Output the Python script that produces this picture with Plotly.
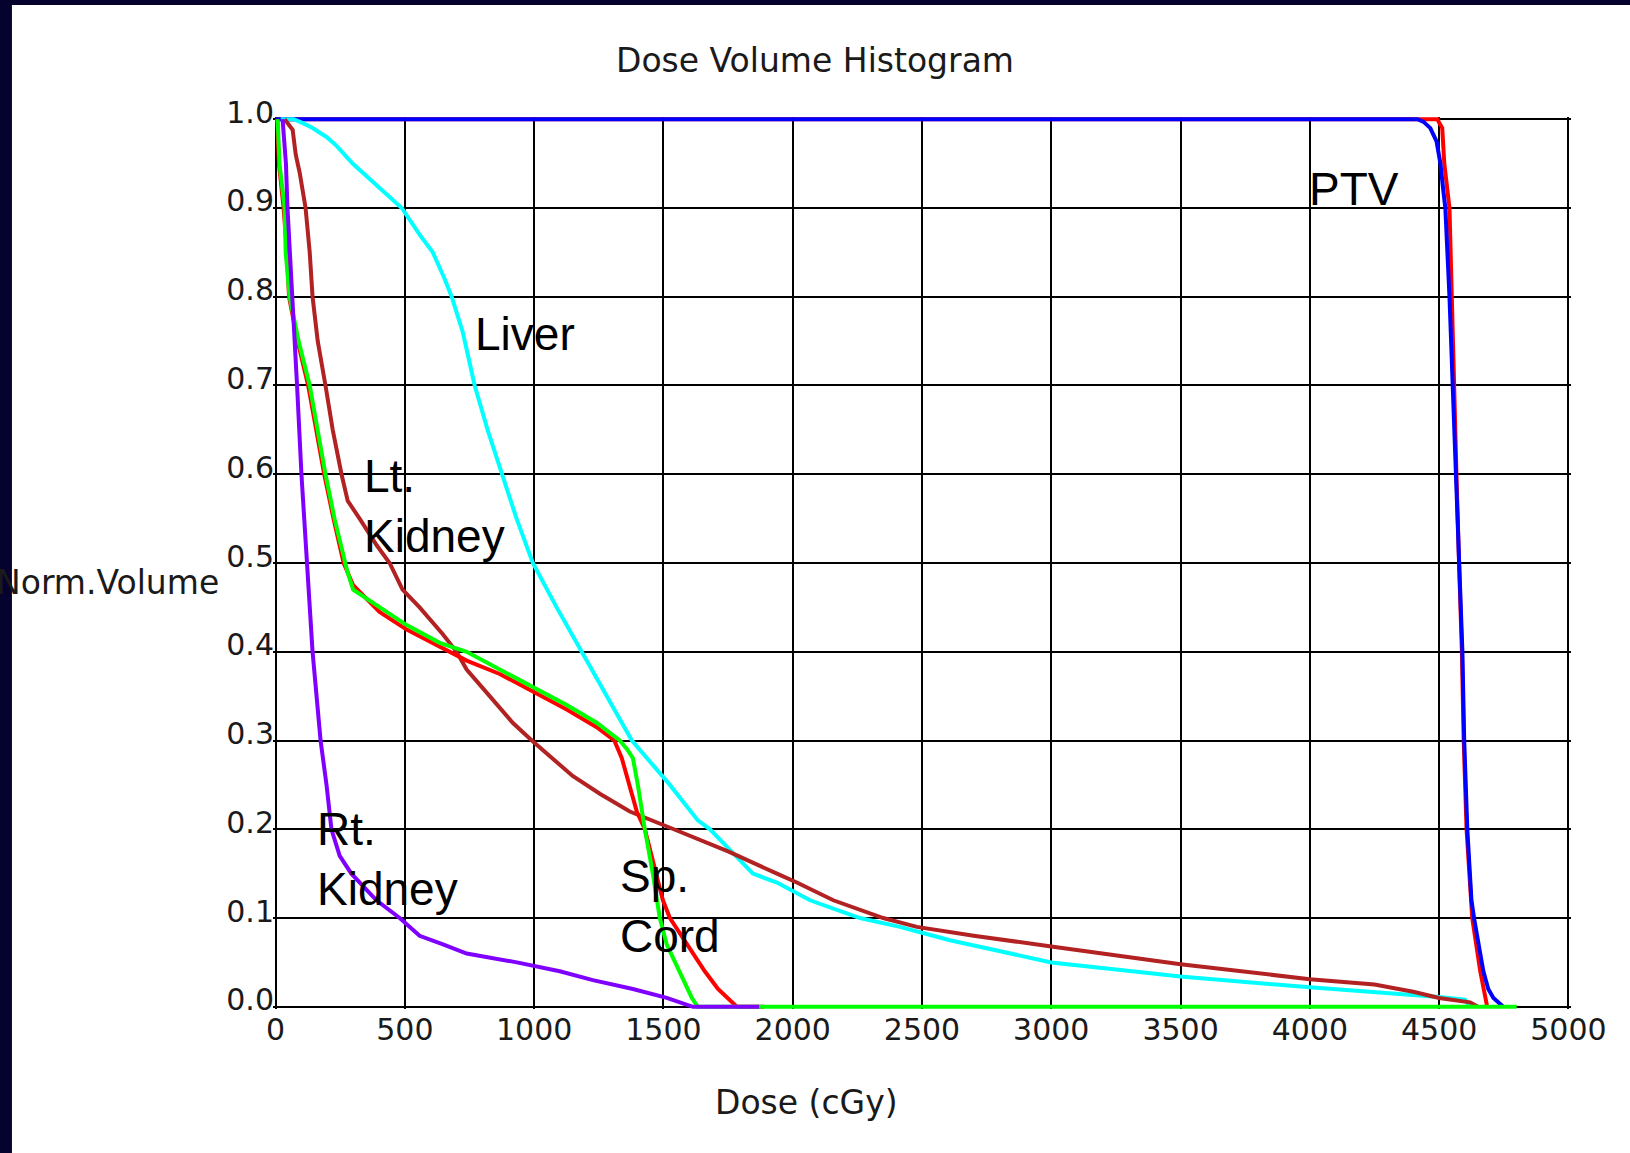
import plotly.graph_objects as go

# ---------------- data (dose in cGy, normalized volume) ----------------
ptv_red_dose = [0, 4493, 4512, 4520, 4540, 4548, 4556, 4567, 4577, 4588, 4595, 4606, 4628, 4659, 4686]
ptv_red_vol = [1.0, 1.0, 0.99, 0.95, 0.9, 0.8, 0.7, 0.6, 0.5, 0.4, 0.3, 0.2, 0.1, 0.04, 0.0]

ptv_dose = [0, 4416, 4440, 4466, 4490, 4505, 4516, 4524, 4540, 4552, 4563, 4575, 4590, 4597, 4609,
            4625, 4635, 4659, 4671, 4690, 4710, 4748]
ptv_vol = [1.0, 1.0, 0.997, 0.99, 0.975, 0.95, 0.92, 0.9, 0.8, 0.7, 0.6, 0.5, 0.4, 0.3, 0.2,
           0.12, 0.1, 0.06, 0.04, 0.02, 0.01, 0.0]

liver_dose = [20, 70, 110, 143, 197, 236, 298, 410, 488, 557, 608, 654, 681, 724, 770, 820, 874, 932,
              995, 1087, 1184, 1281, 1378, 1525, 1633, 1680, 1846, 1939, 2067, 2260, 2415, 2543,
              2608, 3000, 3500, 4000, 4250, 4500, 4600, 4620]
liver_vol = [1.0, 1.0, 0.995, 0.99, 0.98, 0.97, 0.95, 0.92, 0.9, 0.87, 0.85, 0.82, 0.8, 0.76, 0.7,
             0.65, 0.6, 0.55, 0.5, 0.45, 0.4, 0.35, 0.3, 0.25, 0.21, 0.2, 0.15, 0.14, 0.12, 0.1,
             0.09, 0.08, 0.075, 0.05, 0.034, 0.022, 0.017, 0.011, 0.008, 0.0]

lt_kidney_dose = [35, 66, 78, 93, 116, 132, 143, 163, 193, 221, 255, 279, 325, 391, 441, 491, 557,
                  646, 700, 739, 828, 917, 991, 1072, 1149, 1254, 1370, 1540, 1750, 1939, 2016,
                  2157, 2350, 2480, 2700, 3000, 3500, 4000, 4250, 4400, 4500, 4620, 4650]
lt_kidney_vol = [1.0, 0.988, 0.96, 0.94, 0.9, 0.85, 0.8, 0.75, 0.7, 0.65, 0.6, 0.57, 0.55, 0.52,
                 0.5, 0.47, 0.45, 0.42, 0.40, 0.38, 0.35, 0.32, 0.30, 0.28, 0.26, 0.24, 0.22,
                 0.2, 0.175, 0.15, 0.14, 0.12, 0.10, 0.09, 0.08, 0.068, 0.048, 0.031, 0.025,
                 0.017, 0.010, 0.005, 0.0]

cord_red_dose = [6, 13, 31, 44, 52, 85, 126, 158, 188, 224, 263, 300, 402, 507, 635, 739, 867, 995,
                 1126, 1242, 1310, 1339, 1370, 1397, 1428, 1474, 1498, 1525, 1571, 1614, 1660,
                 1711, 1745, 1784, 1890]
cord_red_vol = [1.0, 0.95, 0.9, 0.85, 0.8, 0.75, 0.7, 0.65, 0.6, 0.55, 0.5, 0.475, 0.445, 0.425,
                0.405, 0.39, 0.375, 0.355, 0.335, 0.315, 0.30, 0.28, 0.25, 0.22, 0.2, 0.15, 0.12,
                0.1, 0.08, 0.06, 0.04, 0.02, 0.01, 0.0, 0.0]

cord_dose = [8, 15, 35, 39, 54, 89, 132, 163, 193, 228, 267, 278, 300, 402, 507, 635, 739, 867, 995,
             1126, 1242, 1331, 1360, 1382, 1401, 1428, 1459, 1486, 1513, 1544, 1575, 1610, 1633, 4800]
cord_vol = [1.0, 0.95, 0.9, 0.85, 0.8, 0.75, 0.7, 0.65, 0.6, 0.55, 0.5, 0.49, 0.47, 0.45, 0.43,
            0.41, 0.40, 0.38, 0.36, 0.34, 0.32, 0.30, 0.29, 0.28, 0.25, 0.2, 0.15, 0.1, 0.07,
            0.05, 0.03, 0.01, 0.0, 0.0]

rt_kidney_dose = [27, 40, 46, 66, 83, 100, 120, 143, 174, 197, 216, 248, 293, 390, 480, 557, 650,
                  739, 933, 1099, 1227, 1382, 1513, 1614, 1870]
rt_kidney_vol = [1.0, 0.95, 0.9, 0.8, 0.7, 0.6, 0.5, 0.4, 0.3, 0.25, 0.2, 0.17, 0.15, 0.12, 0.1,
                 0.08, 0.07, 0.06, 0.05, 0.04, 0.03, 0.02, 0.01, 0.0, 0.0]

x_ticks = [0, 500, 1000, 1500, 2000, 2500, 3000, 3500, 4000, 4500, 5000]
y_ticks = [0.0, 0.1, 0.2, 0.3, 0.4, 0.5, 0.6, 0.7, 0.8, 0.9, 1.0]

labels = ["Liver", "Lt.<br>Kidney", "Rt.<br>Kidney", "Sp.<br>Cord", "PTV"]
label_x = [762, 333, 151, 1324, 3990]
label_y = [0.758, 0.564, 0.167, 0.114, 0.921]

# ---------------- figure ----------------
series = [
    (ptv_red_dose, ptv_red_vol, "#ff0000"),
    (ptv_dose, ptv_vol, "#0000ff"),
    (liver_dose, liver_vol, "#00ffff"),
    (lt_kidney_dose, lt_kidney_vol, "#b22222"),
    (cord_red_dose, cord_red_vol, "#ff0000"),
    (cord_dose, cord_vol, "#00ff00"),
    (rt_kidney_dose, rt_kidney_vol, "#8000ff"),
]

fig = go.Figure()
for xs, ys, col in series:
    fig.add_trace(go.Scatter(x=xs, y=ys, mode="lines",
                             line=dict(color=col, width=4), hoverinfo="skip",
                             showlegend=False))

W, H = 1630, 1153
ml, mr, mt, mb = 273.4, 59.4, 117, 144

tick_font = dict(family="DejaVu Sans", size=30, color="#1a1a1a")

fig.update_layout(
    width=W, height=H,
    margin=dict(l=ml, r=mr, t=mt, b=mb, pad=0),
    paper_bgcolor="white",
    plot_bgcolor="white",
    showlegend=False,
    title=dict(text="Dose Volume Histogram", x=815 / W, xanchor="center",
               y=1 - 60 / H, yanchor="middle", xref="container", yref="container",
               font=dict(family="DejaVu Sans", size=33, color="#1a1a1a")),
    xaxis=dict(range=[-10, 5010], tickvals=x_ticks, ticktext=[str(v) for v in x_ticks],
               showgrid=True, gridcolor="black", gridwidth=2, zeroline=False,
               showline=False, ticks="", tickfont=tick_font, layer="below traces"),
    yaxis=dict(range=[-0.0025, 1.0025], tickvals=y_ticks,
               ticktext=["%.1f" % v for v in y_ticks],
               showgrid=True, gridcolor="black", gridwidth=2, zeroline=False,
               showline=False, ticks="", tickfont=tick_font, layer="below traces",
               ticklabelshift=-7, ticklabelstandoff=-2),
    shapes=[
        dict(type="rect", xref="paper", yref="paper",
             x0=(0 - ml) / (W - ml - mr), x1=(12.5 - ml) / (W - ml - mr),
             y0=-1, y1=2, fillcolor="#05032e", line=dict(width=0), layer="above"),
        dict(type="rect", xref="paper", yref="paper",
             x0=-1, x1=2,
             y0=(H - mb - 5) / (H - mt - mb), y1=(H - mb + 5) / (H - mt - mb),
             fillcolor="#05032e", line=dict(width=0), layer="above"),
    ],
)

annotations = []
for t, x, y in zip(labels, label_x, label_y):
    annotations.append(dict(text=t, x=x, y=y, xref="x", yref="y", xanchor="left",
                            yanchor="middle", align="left", showarrow=False,
                            font=dict(family="Liberation Sans", size=46, color="black")))
pw = W - ml - mr
ph = H - mt - mb
annotations.append(dict(text="Norm.Volume", x=(221 - ml) / pw, y=(H - mb - 582) / ph,
                        xref="paper", yref="paper", xanchor="right", yanchor="middle",
                        showarrow=False,
                        font=dict(family="DejaVu Sans", size=33, color="#1a1a1a")))
annotations.append(dict(text="Dose (cGy)", x=(807 - ml) / pw, y=(H - mb - 1102) / ph,
                        xref="paper", yref="paper", xanchor="center", yanchor="middle",
                        showarrow=False,
                        font=dict(family="DejaVu Sans", size=33, color="#1a1a1a")))
fig.update_layout(annotations=annotations)

fig.write_html("out.html", config={"displayModeBar": False},
               post_script="document.body.style.margin='0';")
